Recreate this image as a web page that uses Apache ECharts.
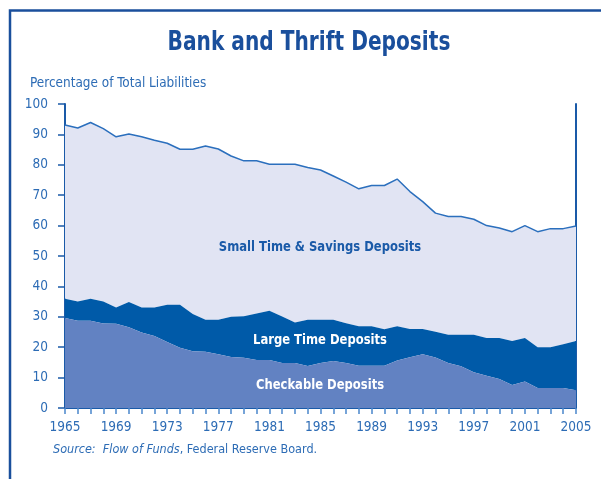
<!DOCTYPE html>
<html>
<head>
<meta charset="utf-8">
<script src="https://cdn.jsdelivr.net/npm/echarts@6/dist/echarts.min.js"></script>
<style>
html,body{margin:0;padding:0;background:#fff;}
#c{width:601px;height:479px;}
</style>
</head>
<body>
<div id="c"></div>
<script>
var years = ['1965','1966','1967','1968','1969','1970','1971','1972','1973','1974','1975','1976','1977','1978','1979','1980','1981','1982','1983','1984','1985','1986','1987','1988','1989','1990','1991','1992','1993','1994','1995','1996','1997','1998','1999','2000','2001','2002','2003','2004','2005'];
var checkable = [29.6,28.7,28.7,27.8,27.7,26.6,24.8,23.7,21.7,19.8,18.7,18.5,17.7,16.8,16.5,15.8,15.8,14.8,14.8,13.8,14.8,15.5,14.8,13.9,13.9,13.9,15.6,16.7,17.7,16.6,14.8,13.7,11.8,10.6,9.5,7.6,8.7,6.6,6.6,6.6,5.8];
var largeTime = [6.3,6.3,7.2,7.2,5.4,8.3,8.3,9.4,12.3,14.2,12.2,10.5,11.3,13.2,13.7,15.3,16.2,15.3,13.3,15.2,14.2,13.5,13.1,13.0,13.0,12.0,11.3,9.3,8.3,8.5,9.3,10.4,12.3,12.4,13.5,14.4,14.3,13.4,13.4,14.4,16.2];
var smallTime = [57.2,57.1,58.0,56.9,56.1,55.2,56.1,55.0,53.1,51.1,54.2,57.2,56.2,52.9,51.1,50.2,48.2,50.1,52.1,50.1,49.3,47.3,46.4,45.2,46.3,47.3,48.4,45.2,41.9,39.0,38.9,38.9,38.0,37.0,36.2,36.0,37.0,38.0,39.0,38.0,37.9];
var yTicks = [0,10,20,30,40,50,60,70,80,90,100];

var FONT = '"Liberation Sans Narrow","DejaVu Sans Condensed","Arial Narrow",sans-serif';
var chart = echarts.init(document.getElementById('c'), null, {renderer:'canvas'});
chart.setOption({
  backgroundColor:'#ffffff',
  animation:false,
  grid:{left:65, right:25, top:104, bottom:71},
  xAxis:{
    type:'category', data:years, boundaryGap:false,
    axisLine:{lineStyle:{color:'#1a5aa8', width:2}},
    axisTick:{interval:0, length:6, lineStyle:{color:'#4a86cc', width:1.5}},
    axisLabel:{interval:3, margin:12, color:'#2d6cb5', fontFamily:FONT, fontSize:13.5}
  },
  yAxis:[{
    type:'value', min:yTicks[0], max:yTicks[yTicks.length-1], interval:10,
    axisLine:{show:true, lineStyle:{color:'#1a5aa8', width:2}},
    axisTick:{show:true, length:7, lineStyle:{color:'#1a5aa8', width:1.5}},
    axisLabel:{margin:17, color:'#2d6cb5', fontFamily:FONT, fontSize:13.5},
    splitLine:{show:false}
  },{
    type:'value', min:0, max:100, interval:10, position:'right',
    axisLine:{show:true, lineStyle:{color:'#1a5aa8', width:2}},
    axisTick:{show:false}, axisLabel:{show:false}, splitLine:{show:false}
  }],
  series:[
    {name:'Checkable Deposits', type:'line', stack:'t', data:checkable, symbol:'none',
     lineStyle:{width:0}, areaStyle:{color:'#6282c2', opacity:1}, z:3},
    {name:'Large Time Deposits', type:'line', stack:'t', data:largeTime, symbol:'none',
     lineStyle:{width:0}, areaStyle:{color:'#005aa8', opacity:1}, z:2},
    {name:'Small Time & Savings Deposits', type:'line', stack:'t', data:smallTime, symbol:'none',
     lineStyle:{width:1.5, color:'#2b6fbd'}, areaStyle:{color:'#e1e4f3', opacity:1}, z:1}
  ],
  graphic:[
    {type:'rect', shape:{x:10, y:10.5, width:700, height:600}, style:{fill:'none', stroke:'#1a4f9c', lineWidth:2.5}, silent:true},
    {type:'text', x:309, y:43, scaleX:0.83, style:{text:'Bank and Thrift Deposits', fill:'#1a4f9c', font:'bold 27px '+FONT, textAlign:'center', textVerticalAlign:'middle'}},
    {type:'text', x:30, y:83, scaleX:0.96, style:{text:'Percentage of Total Liabilities', fill:'#2d6cb5', font:'14px '+FONT, textVerticalAlign:'middle'}},
    {type:'text', x:320, y:247, scaleX:0.92, style:{text:'Small Time & Savings Deposits', fill:'#1a5aa8', font:'bold 14px '+FONT, textAlign:'center', textVerticalAlign:'middle'}, z:10},
    {type:'text', x:320, y:340, scaleX:0.92, style:{text:'Large Time Deposits', fill:'#ffffff', font:'bold 14px '+FONT, textAlign:'center', textVerticalAlign:'middle'}, z:10},
    {type:'text', x:320, y:385, scaleX:0.92, style:{text:'Checkable Deposits', fill:'#ffffff', font:'bold 14px '+FONT, textAlign:'center', textVerticalAlign:'middle'}, z:10},
    {type:'text', x:53, y:450, style:{
      text:'{i|Source:  Flow of Funds}{n|, Federal Reserve Board.}',
      textVerticalAlign:'middle',
      rich:{i:{fontStyle:'italic', fontFamily:FONT, fontSize:12.5, fill:'#2d6cb5', color:'#2d6cb5'},
            n:{fontFamily:FONT, fontSize:12.5, fill:'#2d6cb5', color:'#2d6cb5'}}
    }}
  ]
});
</script>
</body>
</html>
